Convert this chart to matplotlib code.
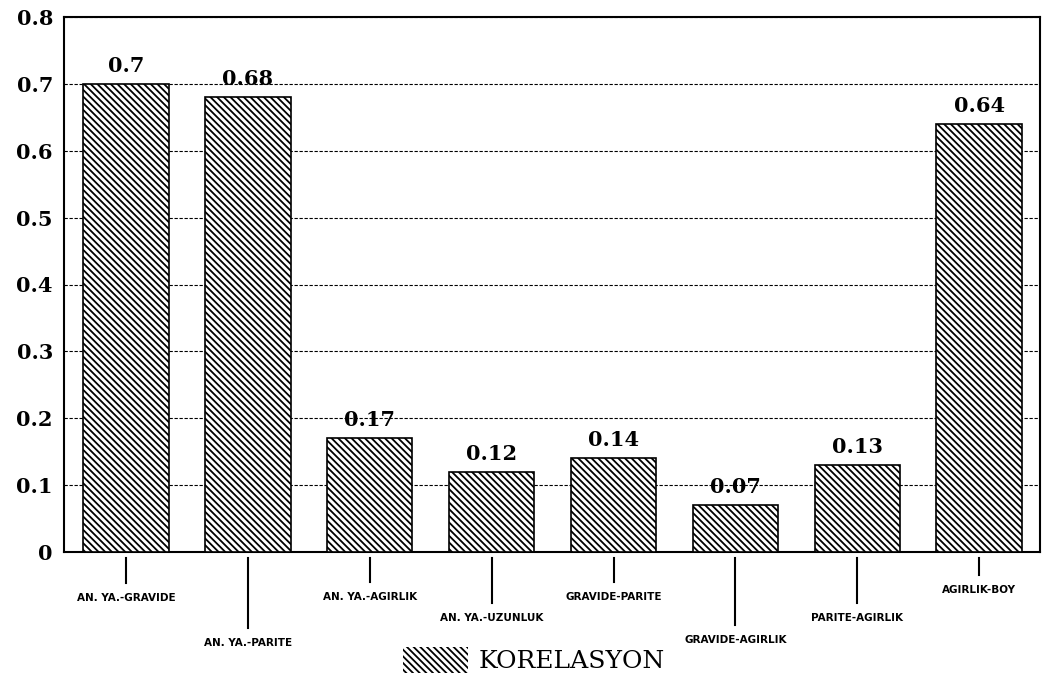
import numpy as np
import matplotlib
matplotlib.use("Agg")
import matplotlib.pyplot as plt
from matplotlib.patches import Patch

# chart data
categories = ["AN. YA.-GRAVIDE", "AN. YA.-PARITE", "AN. YA.-AGIRLIK", "AN. YA.-UZUNLUK",
              "GRAVIDE-PARITE", "GRAVIDE-AGIRLIK", "PARITE-AGIRLIK", "AGIRLIK-BOY"]
values = [0.7, 0.68, 0.17, 0.12, 0.14, 0.07, 0.13, 0.64]
value_labels = ["0.7", "0.68", "0.17", "0.12", "0.14", "0.07", "0.13", "0.64"]
y_ticks = [0, 0.1, 0.2, 0.3, 0.4, 0.5, 0.6, 0.7, 0.8]
y_tick_labels = ["0", "0.1", "0.2", "0.3", "0.4", "0.5", "0.6", "0.7", "0.8"]
legend_label = "KORELASYON"

# how far below the axis each category label hangs (pixels)
tick_drop = [31, 76, 30, 51, 30, 73, 51, 23]

plt.rcParams['font.family'] = ['DejaVu Serif']
plt.rcParams['hatch.linewidth'] = 1.3

fig = plt.figure(figsize=(10.57, 6.85), dpi=100)
ax = fig.add_axes([64 / 1057, 1 - 552 / 685, (1040 - 64) / 1057, (552 - 17) / 685])

x = np.arange(len(categories))
ax.bar(x, values, width=0.70, color="white", edgecolor="black", hatch="\\\\\\\\\\", linewidth=1.2, zorder=3)

for xi, v, lab in zip(x, values, value_labels):
    ax.text(xi, v + 0.012, lab, ha="center", va="bottom", fontsize=15, fontweight="bold")

ax.set_xlim(-0.51, 7.5)
ax.set_ylim(0, 0.8)
ax.set_yticks(y_ticks)
ax.set_yticklabels(y_tick_labels, fontsize=15, fontweight="bold")
ax.tick_params(axis="y", direction="in", length=0, pad=8)
ax.set_xticks([])
ax.grid(axis="y", color="black", linestyle=(0, (3, 1.5)), linewidth=0.8, zorder=0)
for sp in ax.spines.values():
    sp.set_linewidth(1.5)

# category ticks and labels hanging below the axis
trans = ax.get_xaxis_transform()
px = 1 / (552 - 17)
for xi, cat, drop in zip(x, categories, tick_drop):
    ax.plot([xi, xi], [-6 * px, -drop * px], color="black", linewidth=1.5,
            transform=trans, clip_on=False)
    ax.text(xi, -(drop + 15) * px, cat, transform=trans, ha="center", va="center",
            fontsize=7.5, fontweight="bold", fontfamily="DejaVu Sans")

handle = Patch(facecolor="white", edgecolor="black", hatch="\\\\\\\\\\", linewidth=0)
fig.legend([handle], [legend_label], loc="center", bbox_to_anchor=(0.505, 1 - 660 / 685),
           frameon=False, fontsize=18, handlelength=2.6, handleheight=1.2, handletextpad=0.4,
           prop={"family": "DejaVu Serif", "size": 18})

fig.savefig("out.png", dpi=100)
